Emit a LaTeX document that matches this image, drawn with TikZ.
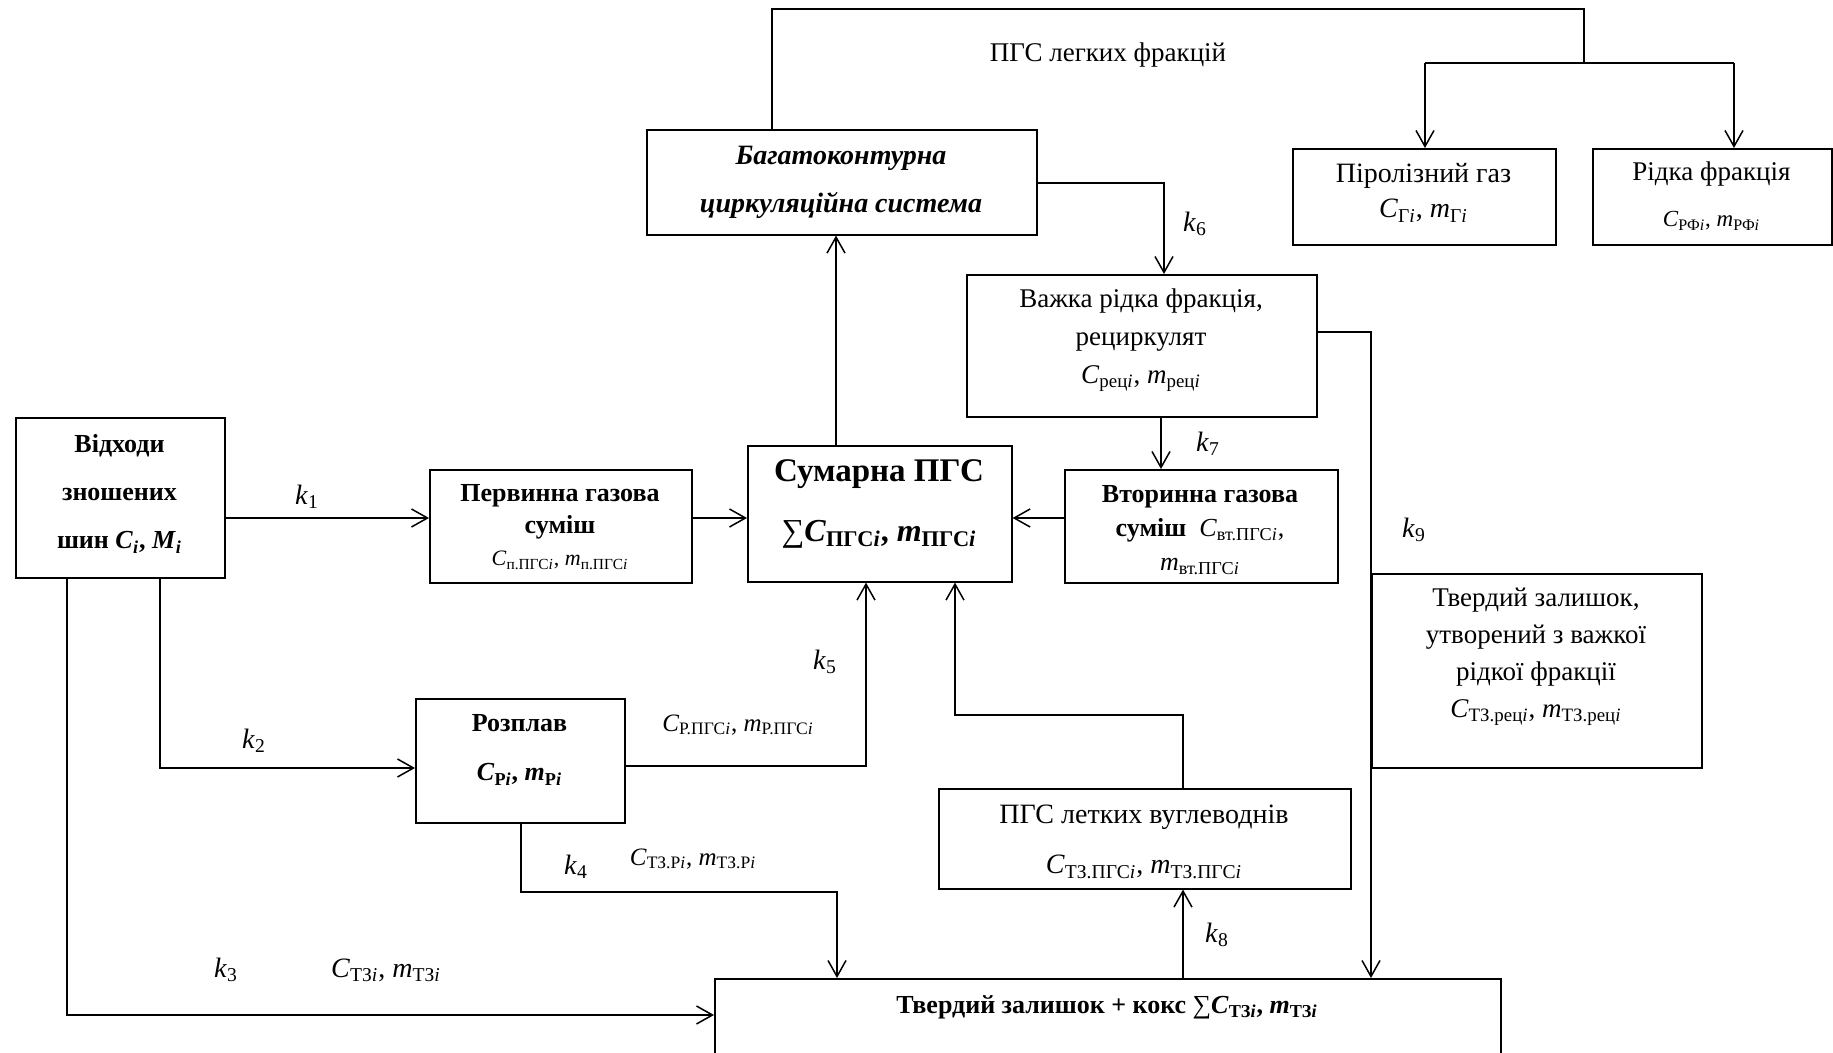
\documentclass[tikz,border=0pt]{standalone}
\usepackage{fontspec}
\setmainfont{Liberation Serif}
\usetikzlibrary{arrows.meta}
\newcommand{\sbs}[1]{\textsubscript{#1}}
\newcommand{\iI}{\textit{i}}
\begin{document}
\begin{tikzpicture}[x=0.5pt,y=-0.5pt,
  box/.style={draw, line width=0.8pt, inner sep=0pt, anchor=north west},
  txt/.style={align=center, inner sep=0pt},
  ln/.style={line width=0.75pt},
  arr/.style={line width=0.75pt, -{Straight Barb[length=8pt,width=9pt,line width=0.75pt]}},
  lbl/.style={inner sep=0pt, font=\fontsize{14}{16}\selectfont}]
\useasboundingbox (0,0) rectangle (1833,1053);
\fill[white] (0,0) rectangle (1833,1053);
\clip (0,0) rectangle (1833,1053);

% boxes
\node[box, minimum width=104.5pt, minimum height=80pt] (A) at (15,417) {};
\node[box, minimum width=131pt, minimum height=56.5pt] (B) at (429,469) {};
\node[box, minimum width=132pt, minimum height=68pt] (S) at (747,445) {};
\node[box, minimum width=136.5pt, minimum height=56.5pt] (V) at (1064,469) {};
\node[box, minimum width=195pt, minimum height=52.5pt] (BK) at (646,129) {};
\node[box, minimum width=175pt, minimum height=71pt] (W) at (966,274) {};
\node[box, minimum width=131.5pt, minimum height=48pt] (PG) at (1292,148) {};
\node[box, minimum width=119.5pt, minimum height=48pt] (RF) at (1592,148) {};
\node[box, minimum width=165pt, minimum height=97pt] (TZ) at (1371,573) {};
\node[box, minimum width=104.5pt, minimum height=62pt] (R) at (415,698) {};
\node[box, minimum width=206pt, minimum height=50pt] (L) at (938,788) {};
\node[box, minimum width=393pt, minimum height=51pt] (BOT) at (714,978) {};

% texts
\node[txt, font=\fontsize{13}{24}\selectfont] (At) at (119.5,494)
  {\textbf{Відходи}\\\textbf{зношених}\\\textbf{шин \textit{C}\sbs{\iI}, \textit{M}\sbs{\iI}}};
\node[txt, font=\fontsize{13}{16}\selectfont] (Bt) at (560,527)
  {\textbf{Первинна газова}\\\textbf{суміш}\\{\fontsize{11}{16}\selectfont\textit{C}\sbs{п.ПГС\iI}, \textit{m}\sbs{п.ПГС\iI}}};
\node[txt, font=\fontsize{16}{30}\selectfont] (St) at (879,504)
  {{\fontsize{16.5}{30}\selectfont\textbf{Сумарна ПГС}}\\∑\textbf{\textit{C}\sbs{ПГС\iI}, \textit{m}\sbs{ПГС\iI}}};
\node[txt, font=\fontsize{13}{17}\selectfont] (Vt) at (1200,530)
  {\textbf{Вторинна газова}\\\textbf{суміш}\enspace\textit{C}\sbs{вт.ПГС\iI},\\\textit{m}\sbs{вт.ПГС\iI}};
\node[txt, font=\fontsize{14}{24}\selectfont] (BKt) at (841,182)
  {\textbf{\textit{Багатоконтурна}}\\\textbf{\textit{циркуляційна система}}};
\node[txt, font=\fontsize{13.5}{19}\selectfont] (Wt) at (1141,340)
  {Важка рідка фракція,\\рециркулят\\\textit{C}\sbs{рец\iI}, \textit{m}\sbs{рец\iI}};
\node[txt, font=\fontsize{14}{17.5}\selectfont] (PGt) at (1423.5,193)
  {Піролізний газ\\\textit{C}\sbs{Г\iI}, \textit{m}\sbs{Г\iI}};
\node[txt, font=\fontsize{13.5}{23}\selectfont] (RFt) at (1711.5,196)
  {Рідка фракція\\{\fontsize{11.5}{23}\selectfont\textit{C}\sbs{РФ\iI}, \textit{m}\sbs{РФ\iI}}};
\node[txt, font=\fontsize{13.5}{18.5}\selectfont] (TZt) at (1536,657)
  {Твердий залишок,\\утворений з важкої\\рідкої фракції\\\textit{C}\sbs{ТЗ.рец\iI}, \textit{m}\sbs{ТЗ.рец\iI}};
\node[txt, font=\fontsize{13}{24.5}\selectfont] (Rt) at (519.5,750)
  {\textbf{Розплав}\\\textbf{\textit{C}\sbs{Р\iI}, \textit{m}\sbs{Р\iI}}};
\node[txt, font=\fontsize{14}{25}\selectfont] (Lt) at (1144,842)
  {ПГС летких вуглеводнів\\\textit{C}\sbs{ТЗ.ПГС\iI}, \textit{m}\sbs{ТЗ.ПГС\iI}};
\node[txt, font=\fontsize{13}{16}\selectfont] (BOTt) at (1107,1007)
  {\textbf{Твердий залишок + кокс }∑\textbf{\textit{C}\sbs{ТЗ\iI}, \textit{m}\sbs{ТЗ\iI}}};

% coordinates
\coordinate (h1) at (0,518);
\coordinate (v1) at (836,0);
\coordinate (t1) at (772,9);
\coordinate (t2) at (1584,9);
\coordinate (t3) at (1584,63);
\coordinate (bl) at (1425,63);
\coordinate (br) at (1734,63);
\coordinate (c6) at (1164,183);
\coordinate (c7) at (1161,0);
\coordinate (c9) at (1371,332);
\coordinate (c2) at (160,768);
\coordinate (c3) at (67,1015);
\coordinate (c5) at (866,766);
\coordinate (c4a) at (521,892);
\coordinate (c4b) at (837,892);
\coordinate (c8a) at (1183,715);
\coordinate (c8b) at (955,715);

% connectors
\draw[arr] (A.east |- h1) -- (B.west |- h1);
\draw[arr] (B.east |- h1) -- (S.west |- h1);
\draw[arr] (V.west |- h1) -- (S.east |- h1);
\draw[arr] (S.north -| v1) -- (BK.south -| v1);
\draw[ln] (BK.north -| t1) -- (t1) -- (t2) -- (t3);
\draw[ln] (bl) -- (br);
\draw[arr] (bl) -- (PG.north -| bl);
\draw[arr] (br) -- (RF.north -| br);
\draw[arr] (BK.east |- c6) -- (c6) -- (W.north -| c6);
\draw[arr] (W.south -| c7) -- (V.north -| c7);
\draw[arr] (W.east |- c9) -- (c9) -- (BOT.north -| c9);
\draw[arr] (A.south -| c2) -- (c2) -- (R.west |- c2);
\draw[arr] (A.south -| c3) -- (c3) -- (BOT.west |- c3);
\draw[arr] (R.east |- c5) -- (c5) -- (S.south -| c5);
\draw[arr] (R.south -| c4a) -- (c4a) -- (c4b) -- (BOT.north -| c4b);
\draw[arr] (L.north -| c8a) -- (c8a) -- (c8b) -- (S.south -| c8b);
\draw[arr] (BOT.north -| c8a) -- (L.south -| c8a);

% labels
\node[lbl] (k1) at (307,497) {\textit{k}\sbs{1}};
\node[lbl] (k2) at (254,741) {\textit{k}\sbs{2}};
\node[lbl] (k3) at (226,970) {\textit{k}\sbs{3}};
\node[lbl] (k4) at (576,867) {\textit{k}\sbs{4}};
\node[lbl] (k5) at (825,662) {\textit{k}\sbs{5}};
\node[lbl] (k6) at (1195,224) {\textit{k}\sbs{6}};
\node[lbl] (k7) at (1208,444) {\textit{k}\sbs{7}};
\node[lbl] (k8) at (1217,935) {\textit{k}\sbs{8}};
\node[lbl] (k9) at (1414,530) {\textit{k}\sbs{9}};
\node[lbl, font=\fontsize{13.5}{16}\selectfont] (lf) at (1108,55) {ПГС легких фракцій};
\node[lbl] (q3) at (386,970) {\textit{C}\sbs{ТЗ\iI}, \textit{m}\sbs{ТЗ\iI}};
\node[lbl, font=\fontsize{12.5}{15}\selectfont] (q5) at (738,725) {\textit{C}\sbs{Р.ПГС\iI}, \textit{m}\sbs{Р.ПГС\iI}};
\node[lbl, font=\fontsize{12.5}{15}\selectfont] (q4) at (693,859) {\textit{C}\sbs{ТЗ.Р\iI}, \textit{m}\sbs{ТЗ.Р\iI}};
\end{tikzpicture}
\end{document}
